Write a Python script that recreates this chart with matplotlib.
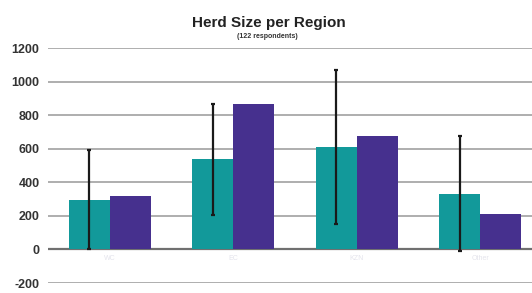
import numpy as np
import matplotlib
matplotlib.use("Agg")
import matplotlib.pyplot as plt

# 数据
regions = ["WC", "EC", "KZN", "Other"]
herd_a = [295, 537, 611, 332]
herd_b = [316, 864, 677, 211]
herd_a_err = [295, 330, 458, 343]
ticks = [-200, 0, 200, 400, 600, 800, 1000, 1200]

plt.rcParams['font.family'] = ['Liberation Sans', 'DejaVu Sans']

fig = plt.figure(figsize=(5.32, 2.93), dpi=100)
ax = fig.add_axes([0.09, 0.034, 0.91, 0.802])

x = np.arange(len(regions))
w = 0.333
ax.bar(x - w / 2, herd_a, w, color='#12999a', zorder=3)
ax.bar(x + w / 2, herd_b, w, color='#46308e', zorder=3)
ax.errorbar(x - w / 2, herd_a, yerr=herd_a_err, fmt='none', ecolor='#1a1a1a',
            elinewidth=1.6, capsize=1.2, capthick=1.6, zorder=4)

# x轴标签放在 0 线下面 (先移动 spine, 再设标签)
ax.spines['bottom'].set_position(('data', 0))
for s in ax.spines.values():
    s.set_visible(False)

ax.set_ylim(-200, 1200)
ax.set_xlim(-0.5, 3.42)
ax.set_yticks(ticks)
ax.set_yticklabels([str(t) for t in ticks], fontsize=9, fontweight='bold', color='#333333')
ax.set_xticks(x)
ax.set_xticklabels(regions, fontsize=5, color='#e4e4ec')
ax.tick_params(axis='both', length=0)
ax.tick_params(axis='y', pad=6)
ax.tick_params(axis='x', pad=4)
ax.yaxis.grid(True, color='#a8a8a8', linewidth=1.3, zorder=0)
ax.axhline(0, color='#707070', linewidth=1.6, zorder=2)

fig.text(0.505, 0.92, "Herd Size per Region", ha='center', va='center',
         fontsize=11, fontweight='bold', color='#222222')
fig.text(0.502, 0.875, "(122 respondents)", ha='center', va='center',
         fontsize=5, fontweight='bold', color='#333333')

plt.savefig("out.png", dpi=100)
plt.close()
